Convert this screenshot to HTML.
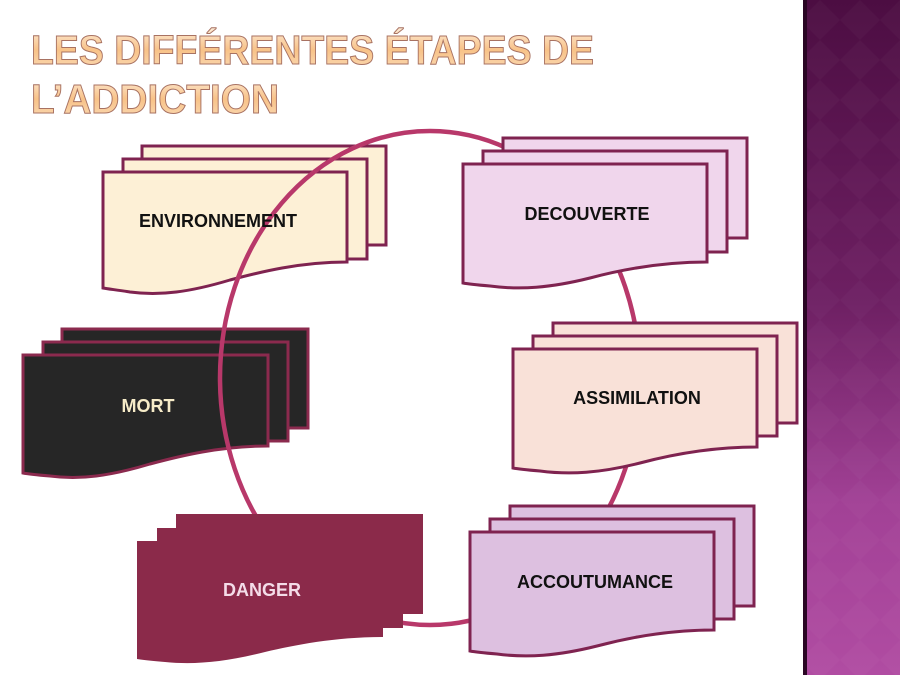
<!DOCTYPE html>
<html><head><meta charset="utf-8"><style>
html,body{margin:0;padding:0;width:900px;height:675px;overflow:hidden;background:#fff}
</style></head><body>
<svg width="900" height="675" viewBox="0 0 900 675" xmlns="http://www.w3.org/2000/svg">
<defs>
<linearGradient id="side" x1="0" y1="0" x2="0" y2="1">
<stop offset="0" stop-color="#4c0d42"/><stop offset="0.45" stop-color="#6e2063"/><stop offset="0.75" stop-color="#a24196"/><stop offset="1" stop-color="#b04ca2"/>
</linearGradient>
<linearGradient id="tg" x1="0" y1="0" x2="0" y2="1">
<stop offset="0" stop-color="#fdecd8"/><stop offset="0.5" stop-color="#f8c288"/><stop offset="1" stop-color="#fadcb8"/>
</linearGradient>
<pattern id="dia" width="40" height="40" patternUnits="userSpaceOnUse">
<path d="M20 0 L40 20 L20 40 L0 20Z" fill="#ffffff" opacity="0.025"/>
</pattern>
</defs>
<rect x="803" y="0" width="97" height="675" fill="url(#side)"/>
<rect x="803" y="0" width="97" height="675" fill="url(#dia)"/>
<rect x="803" y="0" width="4" height="675" fill="#2a0624"/>

<g font-family="Liberation Sans, sans-serif" font-weight="bold" font-size="41" fill="url(#tg)" stroke="#a87262" stroke-width="1">
<text x="31" y="64" textLength="563" lengthAdjust="spacingAndGlyphs">LES DIFFÉRENTES ÉTAPES DE</text>
<text x="31" y="113" textLength="248" lengthAdjust="spacingAndGlyphs">L’ADDICTION</text>
</g>

<!-- ENV -->
<g stroke="#7f2350" stroke-width="3" fill="#fdf0d6">
<rect x="142" y="146" width="244" height="99"/>
<rect x="123" y="159" width="244" height="100"/>
<path d="M103 172 H347 V262 C300 262 260 272 230 280 C190 292 160 296 130 292 C118 290 108 289 103 288 Z"/>
</g>
<!-- MORT -->
<g stroke="#8b2a4e" stroke-width="3" fill="#262626">
<rect x="62" y="329" width="246" height="99"/>
<rect x="43" y="342" width="245" height="99"/>
<path d="M23 355 H268 V446 C220 446 180 456 150 464 C110 476 80 480 50 476 C38 475 28 474 23 473 Z"/>
</g>
<!-- arc -->
<ellipse cx="430" cy="378" rx="210" ry="247" fill="none" stroke="#b8386a" stroke-width="4.5"/>
<!-- DECOUVERTE -->
<g stroke="#7f2350" stroke-width="3" fill="#f0d6ec">
<rect x="503" y="138" width="244" height="100"/>
<rect x="483" y="151" width="244" height="101"/>
<path d="M463 164 H707 V262 C660 262 620 270 590 278 C550 288 520 290 490 286 C478 285 468 284 463 283 Z"/>
</g>
<!-- ASSIM -->
<g stroke="#7f2350" stroke-width="3" fill="#f9e1d8">
<rect x="553" y="323" width="244" height="100"/>
<rect x="533" y="336" width="244" height="100"/>
<path d="M513 349 H757 V447 C710 447 670 455 640 463 C600 473 570 475 540 471 C528 470 518 469 513 468 Z"/>
</g>
<!-- ACCOUT -->
<g stroke="#7f2350" stroke-width="3" fill="#ddc0e0">
<rect x="510" y="506" width="244" height="100"/>
<rect x="490" y="519" width="244" height="100"/>
<path d="M470 532 H714 V630 C667 630 627 638 597 646 C557 656 527 658 497 654 C485 653 475 652 470 651 Z"/>
</g>
<!-- DANGER -->
<g fill="#8b2a4a">
<rect x="176" y="514" width="247" height="100"/>
<rect x="157" y="528" width="246" height="100"/>
<path d="M137 541 H383 V637 C335 637 295 645 265 652 C225 662 195 665 165 662 C153 661 143 660 137 659 Z"/>
</g>

<g font-family="Liberation Sans, sans-serif" font-weight="bold" font-size="18" text-anchor="middle">
<text x="218" y="227" fill="#111">ENVIRONNEMENT</text>
<text x="587" y="220" fill="#111">DECOUVERTE</text>
<text x="637" y="404" fill="#111">ASSIMILATION</text>
<text x="595" y="588" fill="#111">ACCOUTUMANCE</text>
<text x="148" y="412" fill="#f7ecc8">MORT</text>
<text x="262" y="596" fill="#f4dce8">DANGER</text>
</g>
</svg>
</body></html>
